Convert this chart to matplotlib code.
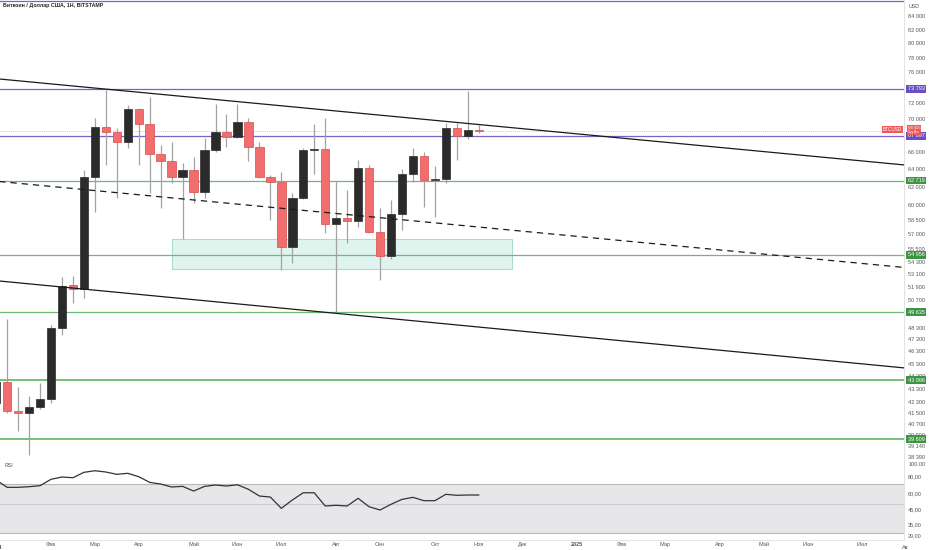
import pandas as pd
import matplotlib
matplotlib.use('Agg')
import matplotlib.pyplot as plt
import matplotlib.dates as mdates
import matplotlib.ticker as mticker
from matplotlib.patches import Rectangle
from matplotlib.transforms import blended_transform_factory, Bbox, TransformedBbox

plt.rcParams['font.family'] = ['Liberation Sans', 'DejaVu Sans']

# weekly candles, BTC/USD (Bitstamp)
weeks = pd.date_range('2024-01-01', '2024-11-04', freq='7D')
opens = [42240, 43850, 41650, 41500, 41950, 42550, 48270, 52100, 51730, 63110,
         68960, 68370, 67160, 71220, 69340, 65740, 64930, 63110, 63900, 61460,
         66210, 68370, 67760, 69580, 66570, 63110, 62560, 55730, 60800, 66210,
         66330, 58050, 58680, 58370, 64130, 57240, 54860, 59100, 63440, 65510,
         62770, 62900, 68850, 67870, 68610]
highs = [45900, 49050, 43470, 42780, 43770, 48530, 52830, 52930, 63900, 70080,
         73660, 68850, 71720, 71300, 72740, 66800, 67160, 64690, 65390, 67630,
         71850, 70560, 71850, 70080, 67160, 63300, 63670, 61340, 66500, 69340,
         70080, 62660, 61660, 65050, 64470, 59730, 60580, 64020, 66450, 66000,
         64350, 69460, 69460, 73530, 69200]
lows = [40750, 41500, 40200, 38520, 41800, 42240, 47670, 50460, 50910, 59300,
        64470, 60800, 66450, 64470, 61340, 59730, 62450, 56530, 60270, 60800,
        65970, 66570, 67630, 64930, 63000, 58460, 53500, 54170, 60650, 63440,
        57130, 49570, 56130, 57750, 57100, 52570, 54560, 57450, 62560, 59830,
        58780, 62450, 65050, 67520, 68250]
closes = [43850, 41650, 41500, 41950, 42550, 48270, 52000, 51730, 63110, 68960,
          68370, 67160, 71220, 69340, 65740, 64930, 63110, 63900, 61460, 66210,
          68370, 67760, 69580, 66570, 63110, 62560, 55730, 60800, 66210, 66330,
          58050, 58680, 58370, 64130, 57240, 54860, 59100, 63440, 65510, 62770,
          62900, 68850, 67870, 68610, 68505]
rsi = [75.0, 66.1, 66.1, 66.8, 68.0, 75.9, 79.0, 78.0, 85.6, 88.0,
       86.1, 82.7, 84.2, 79.4, 72.0, 70.0, 66.5, 67.2, 62.0, 67.2,
       68.8, 67.6, 69.1, 63.9, 56.9, 55.9, 46.0, 53.1, 60.2, 60.2,
       47.9, 48.5, 47.9, 54.7, 47.3, 44.7, 49.3, 53.7, 55.6, 52.5,
       52.5, 58.6, 57.6, 57.9, 57.9]

# drawings
purple_levels = [86270, 73793, 67897]
green_levels = [62719, 54956, 49635, 43996, 39609]
line_dates = ['2024-01-03', '2025-08-03']
upper_line = [75110, 64470]
mid_line = [62610, 53740]
lower_line = [52470, 44960]
zone_dates = ['2024-04-22', '2024-11-25']
zone_prices = [53600, 56530]
last_price = 68505

price_ticks = [84000, 82000, 80000, 78000, 76000, 72000, 70000, 66000, 64000,
               62000, 60000, 58500, 57000, 55500, 54300, 53100, 51900, 50700,
               48300, 47300, 46300, 45300, 44300, 43300, 42300, 41500, 40700,
               39900, 39140, 38390]
rsi_ticks = [100, 80, 60, 45, 35, 29]
month_dates = ['2024-02-05', '2024-03-04', '2024-04-01', '2024-05-06', '2024-06-03',
               '2024-07-01', '2024-08-05', '2024-09-02', '2024-10-07', '2024-11-04',
               '2024-12-02', '2025-01-06', '2025-02-03', '2025-03-03', '2025-04-07',
               '2025-05-05', '2025-06-02', '2025-07-07']
month_labels = ['Фев', 'Мар', 'Апр', 'Май', 'Июн', 'Июл', 'Авг', 'Сен', 'Окт', 'Ноя',
                'Дек', '2025', 'Фев', 'Мар', 'Апр', 'Май', 'Июн', 'Июл']

RED = '#f26d6d'
RED_EDGE = '#d94b4b'
BLACK = '#2b2b2b'
WICK = '#a3a3a3'
PURPLE = '#7b61c9'
PURPLE_TAG = '#6a4fc4'
GREEN = '#6dbb71'
GREEN_TAG = '#3d9443'
TXT = '#555555'

W, H = 932, 550
fig = plt.figure(figsize=(W / 100, H / 100), dpi=100)
ax = fig.add_axes([0, 90 / H, 904 / W, 460 / H])
ax_rsi = fig.add_axes([0, 10 / H, 904 / W, 80 / H], sharex=ax)

x = mdates.date2num(weeks)
feb5 = mdates.date2num(pd.Timestamp('2024-02-05'))
ax.set_xlim(feb5 - 32.55, feb5 + 544.4)
ax.set_yscale('log')
ax.set_ylim(38182, 86420)

# candles
up = [c >= o for o, c in zip(opens, closes)]
ax.vlines(x, lows, highs, color=WICK, lw=0.9, zorder=3)
bottoms = [min(o, c) for o, c in zip(opens, closes)]
heights = [max(abs(c - o), 40) for o, c in zip(opens, closes)]
ax.bar(x, heights, bottom=bottoms, width=5.4,
       color=[BLACK if u else RED for u in up],
       edgecolor=[BLACK if u else RED_EDGE for u in up], lw=0.5, zorder=4)

# levels
for p in purple_levels:
    ax.axhline(p, color=PURPLE, lw=0.9, zorder=2)
for i, p in enumerate(green_levels):
    ax.axhline(p, color=GREEN, lw=1.3 if i >= 3 else 0.9, zorder=2)
ax.axhline(last_price, color='#f3a9a9', lw=0.6, ls=(0, (1, 1.5)), zorder=2)

# channel
ld = mdates.date2num(pd.to_datetime(line_dates))
ax.plot(ld, upper_line, color='#1a1a1a', lw=0.9, zorder=5)
ax.plot(ld, mid_line, color='#1a1a1a', lw=0.9, ls=(0, (5, 4)), zorder=5)
ax.plot(ld, lower_line, color='#1a1a1a', lw=0.9, zorder=5)

zd = mdates.date2num(pd.to_datetime(zone_dates))
ax.add_patch(Rectangle((zd[0], zone_prices[0]), zd[1] - zd[0],
                       zone_prices[1] - zone_prices[0],
                       facecolor='#d6f1ea', edgecolor='#8fd3c2', lw=0.8,
                       alpha=0.75, zorder=1))

# price scale
ax.yaxis.tick_right()
ax.yaxis.set_major_locator(mticker.FixedLocator(price_ticks))
ax.yaxis.set_major_formatter(mticker.FuncFormatter(lambda v, p: f'{v:,.0f}'.replace(',', ' ')))
ax.yaxis.set_minor_locator(mticker.NullLocator())
ax.tick_params(axis='y', length=0, pad=3, labelsize=4, labelcolor=TXT)
ax.tick_params(axis='x', length=0, labelbottom=False)
for s in ['top', 'left']:
    ax.spines[s].set_visible(False)
ax.spines['right'].set_color('#e3e3e3')
ax.spines['bottom'].set_color('#dcdcdc')
ax.spines['right'].set_linewidth(0.8)
ax.spines['bottom'].set_linewidth(0.8)

tr = blended_transform_factory(ax.transAxes, ax.transData)


def tag(price, text, fc, fs=4.0):
    ax.text(1.004, price, text, transform=tr, ha='left', va='center',
            fontsize=fs, color='white', clip_on=False, zorder=10,
            bbox=dict(boxstyle='square,pad=0.25', fc=fc, ec='none'))


for p in purple_levels[1:]:
    tag(p, f'{p:,}'.replace(',', ' '), PURPLE_TAG)
for p in green_levels:
    tag(p, f'{p:,}'.replace(',', ' '), GREEN_TAG)
ax.text(1.004, 68620, '68 505\n5д 8ч', transform=tr, ha='left', va='center',
        fontsize=3.1, linespacing=0.95, color='white', clip_on=False, zorder=11,
        bbox=dict(boxstyle='square,pad=0.2', fc='#f05a5a', ec='none'))
ax.text(0.998, 68620, 'BTCUSD', transform=tr, ha='right', va='center',
        fontsize=3.4, color='white', clip_on=False, zorder=11,
        bbox=dict(boxstyle='square,pad=0.2', fc='#f05a5a', ec='none'))

fig.text(3 / W, 1 - 6 / H, 'Биткоин / Доллар США, 1Н, BITSTAMP', fontsize=3.8,
         fontweight='bold', color='#222222', ha='left', va='center')
fig.text(909 / W, 1 - 6 / H, 'USD', fontsize=3.8, color=TXT, ha='left', va='center')

# RSI pane
ax_rsi.set_yscale('log')
ax_rsi.set_ylim(26.65, 105.9)
ax_rsi.axhspan(30, 70, color='#e7e7ea', lw=0, zorder=0)
ax_rsi.axhline(70, color='#b8b8bb', lw=0.8, zorder=1)
ax_rsi.axhline(30, color='#b8b8bb', lw=0.8, zorder=1)
ax_rsi.axhline(50, color='#cfcfd3', lw=0.8, zorder=1)
ax_rsi.plot(x, rsi, color='#333333', lw=0.9, zorder=3)
ax_rsi.text(5 / 904, 0.93, 'RSI', transform=ax_rsi.transAxes, fontsize=3.8,
            color=TXT, ha='left', va='center')
ax_rsi.yaxis.tick_right()
ax_rsi.yaxis.set_major_locator(mticker.FixedLocator(rsi_ticks))
ax_rsi.yaxis.set_major_formatter(mticker.FuncFormatter(lambda v, p: f'{v:.2f}'.replace('.', ',')))
ax_rsi.yaxis.set_minor_locator(mticker.NullLocator())
ax_rsi.tick_params(axis='y', length=0, pad=3, labelsize=4, labelcolor=TXT)

md = mdates.date2num(pd.to_datetime(month_dates))
ax_rsi.xaxis.set_major_locator(mticker.FixedLocator(md))
ax_rsi.xaxis.set_major_formatter(mticker.FixedFormatter(month_labels))
ax_rsi.xaxis.set_minor_locator(mticker.NullLocator())
ax_rsi.tick_params(axis='x', length=0, pad=1.5, labelsize=4, labelcolor=TXT)
for lbl in ax_rsi.get_xticklabels():
    if lbl.get_text() == '2025':
        lbl.set_fontweight('bold')
for s in ['top', 'left']:
    ax_rsi.spines[s].set_visible(False)
ax_rsi.spines['right'].set_color('#e3e3e3')
ax_rsi.spines['bottom'].set_color('#e6e6e6')
ax_rsi.spines['right'].set_linewidth(0.8)
ax_rsi.spines['bottom'].set_linewidth(0.8)

# edge labels partly cut by the frame / price scale
xtr = blended_transform_factory(ax_rsi.transData, ax_rsi.transAxes)
clip = TransformedBbox(Bbox([[-1, -1], [1.0045, 1]]), ax_rsi.transAxes)
for d, s, w in [('2024-01-01', '2024', 'bold'), ('2025-08-04', 'Авг', 'normal')]:
    t = ax_rsi.text(mdates.date2num(pd.Timestamp(d)), -0.06, s, transform=xtr,
                    fontsize=4, color=TXT, fontweight=w, ha='center', va='top')
    t.set_clip_box(clip)
    t.set_clip_on(True)

fig.savefig('out.png', dpi=100)
